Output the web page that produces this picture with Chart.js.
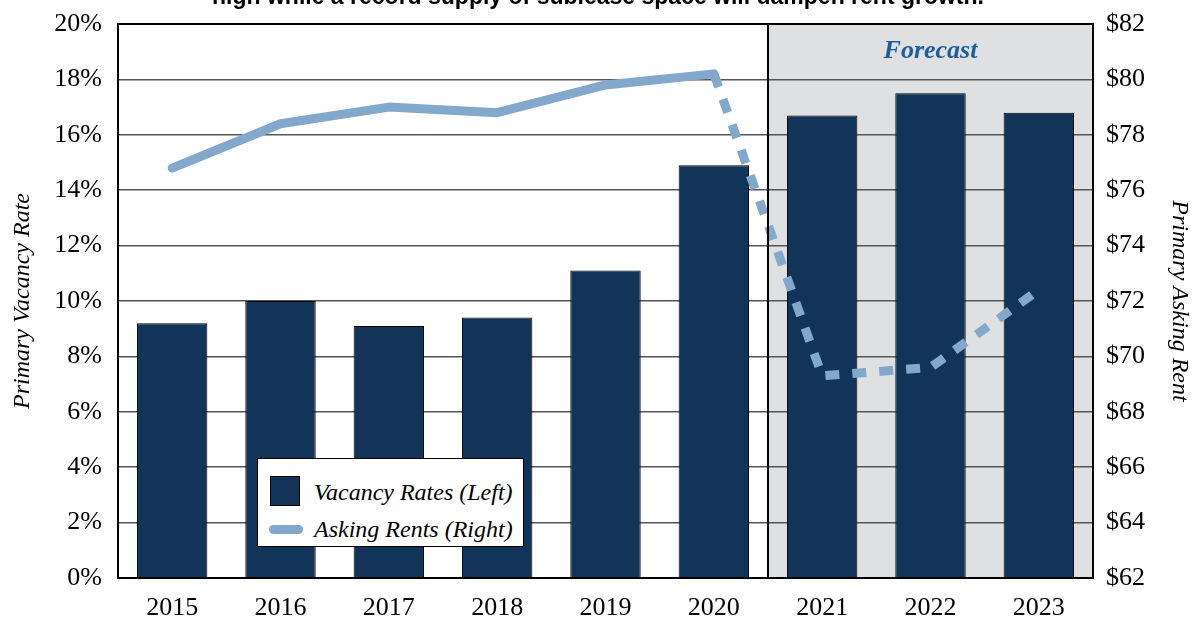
<!DOCTYPE html>
<html>
<head>
<meta charset="utf-8">
<script src="https://cdn.jsdelivr.net/npm/chart.js@4"></script>
<style>
  body { margin: 0; background: #fff; overflow: hidden; }
  #wrap { position: relative; width: 1196px; height: 625px; overflow: hidden; }
  #title { position: absolute; left: 0; width: 1196px; top: -17px; text-align: center;
    font: bold 23px "Liberation Sans", Arial, sans-serif; color: #000; }
  #legend { position: absolute; left: 257px; top: 458px; width: 267px; height: 89px;
    background: #fff; border: 1.5px solid #000; box-sizing: border-box;
    font: italic 24px "Liberation Serif", serif; color: #000; }
  .sw { position: absolute; }
  .lbl { position: absolute; left: 56px; white-space: nowrap; line-height: 26px; }
</style>
</head>
<body>
<div id="wrap">
  <canvas id="chart" width="1196" height="625"></canvas>
  <div id="title">high while a record supply of sublease space will dampen rent growth.</div>
  <div id="legend">
    <div class="sw" style="left:12px;top:17px;width:30px;height:30px;background:#133459;border:1.5px solid #000;box-sizing:border-box"></div>
    <div class="lbl" style="top:20px">Vacancy Rates (Left)</div>
    <div class="sw" style="left:11px;top:66px;width:34px;height:9px;background:#82a9cb;border-radius:5px"></div>
    <div class="lbl" style="top:57px">Asking Rents (Right)</div>
  </div>
</div>
<script>
const years = ["2015", "2016", "2017", "2018", "2019", "2020", "2021", "2022", "2023"]
const vacancyRates = [9.2, 10.0, 9.1, 9.4, 11.1, 14.9, 16.7, 17.5, 16.8]
const askingRents = [76.8, 78.4, 79.0, 78.8, 79.8, 80.2, 69.3, 69.6, 72.4]
const forecastStart = 6
const forecastLabel = "Forecast"

const serif = "'Liberation Serif', 'Times New Roman', serif"

const frame = {
  id: "frame",
  beforeDraw(chart) {
    let {ctx, chartArea} = chart
    let x = chart.scales.x
    let left = (x.getPixelForValue(forecastStart - 1) + x.getPixelForValue(forecastStart)) / 2
    ctx.save()
    ctx.fillStyle = "#dfe0e2"
    ctx.fillRect(left, chartArea.top, chartArea.right - left, chartArea.bottom - chartArea.top)
    ctx.restore()
  },
  afterDraw(chart) {
    let {ctx, chartArea} = chart
    let x = chart.scales.x
    let left = (x.getPixelForValue(forecastStart - 1) + x.getPixelForValue(forecastStart)) / 2
    ctx.save()
    ctx.strokeStyle = "#000"
    ctx.lineWidth = 2
    ctx.strokeRect(chartArea.left, chartArea.top, chartArea.right - chartArea.left, chartArea.bottom - chartArea.top)
    ctx.beginPath()
    ctx.moveTo(left, chartArea.top)
    ctx.lineTo(left, chartArea.bottom)
    ctx.stroke()
    ctx.fillStyle = "#1b5e9b"
    ctx.font = "bold italic 26px " + serif
    ctx.textAlign = "center"
    ctx.textBaseline = "middle"
    ctx.fillText(forecastLabel, (left + chartArea.right) / 2, chartArea.top + 27)
    ctx.restore()
  }
}

const tickFont = { family: serif, size: 26 }
const titleFont = { family: serif, size: 24, style: "italic" }

const fitY = (w) => (s) => {
  s.width = w
  s.paddingTop = 0
  s.paddingBottom = 0
}

new Chart(document.getElementById("chart"), {
  type: "bar",
  plugins: [frame],
  data: {
    labels: years,
    datasets: [
      {
        type: "line",
        label: "Asking Rents (Right)",
        data: askingRents,
        yAxisID: "y2",
        order: 0,
        borderColor: "#82a9cb",
        borderWidth: 9,
        borderCapStyle: "round",
        borderJoinStyle: "round",
        pointRadius: 0,
        tension: 0,
        segment: {
          borderDash: (c) => c.p0DataIndex >= forecastStart - 1 ? [14, 13] : undefined,
          borderCapStyle: (c) => c.p0DataIndex >= forecastStart - 1 ? "butt" : "round"
        }
      },
      {
        label: "Vacancy Rates (Left)",
        data: vacancyRates,
        yAxisID: "y",
        order: 1,
        backgroundColor: "#133459",
        borderColor: "#000",
        borderWidth: 1,
        barPercentage: 0.65,
        categoryPercentage: 1
      }
    ]
  },
  options: {
    responsive: false,
    animation: false,
    layout: { padding: { top: 24, left: 0, right: 0, bottom: 0 } },
    plugins: { legend: { display: false }, tooltip: { enabled: false } },
    scales: {
      x: {
        grid: { display: false },
        border: { display: false },
        ticks: { color: "#000", font: tickFont, padding: 7 },
        afterFit: (s) => { s.height = 47; s.paddingLeft = 0; s.paddingRight = 0 }
      },
      y: {
        position: "left",
        min: 0, max: 20,
        ticks: { stepSize: 2, color: "#000", font: tickFont, padding: 16, callback: (v) => v + "%" },
        grid: { color: "#555", lineWidth: 1.5, drawTicks: false },
        border: { display: false },
        title: { display: true, text: "Primary Vacancy Rate", color: "#000", font: titleFont, padding: { top: 8, bottom: 0 } },
        afterFit: fitY(118)
      },
      y2: {
        position: "right",
        min: 62, max: 82,
        ticks: { stepSize: 2, color: "#000", font: tickFont, padding: 13, callback: (v) => "$" + v },
        grid: { display: false, drawTicks: false },
        border: { display: false },
        title: { display: true, text: "Primary Asking Rent", color: "#000", font: titleFont, padding: { top: 2, bottom: 0 } },
        afterFit: fitY(103)
      }
    }
  }
})
</script>
</body>
</html>
